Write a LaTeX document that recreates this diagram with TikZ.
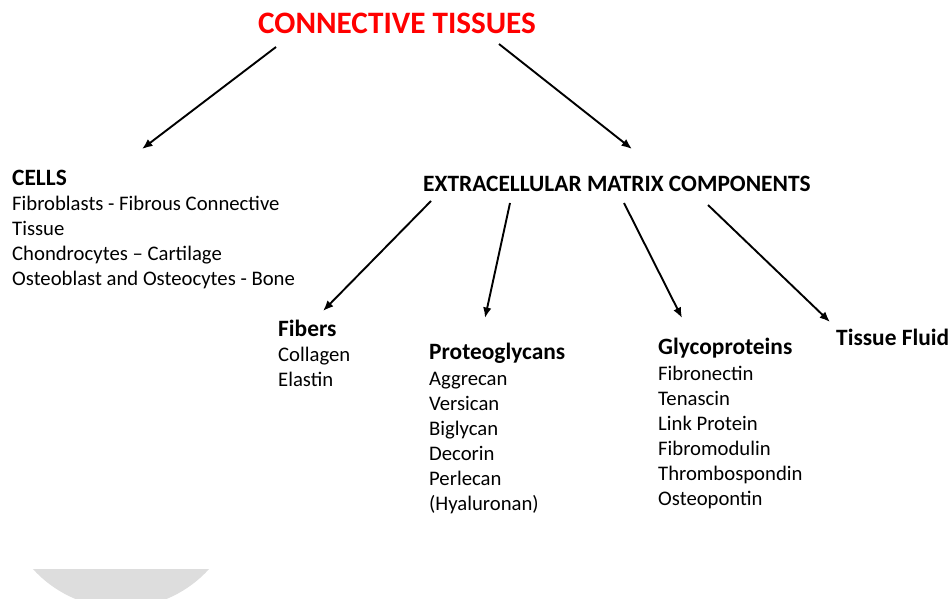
\documentclass[tikz,border=0pt]{standalone}
\usepackage{fontspec}
\setmainfont{Carlito}
\usetikzlibrary{arrows.meta}
\definecolor{segGrey}{RGB}{221,221,221}
\definecolor{titleRed}{RGB}{255,0,0}
\begin{document}
\begin{tikzpicture}[x=1pt,y=-1pt,
  txt/.style={anchor=base west,inner sep=0pt,font=\fontsize{20.7}{25}\selectfont},
  hd/.style={anchor=base west,inner sep=0pt,font=\fontsize{23.4}{28}\selectfont\bfseries},
  arr/.style={line width=1.9pt,-{Latex[length=10.5pt,width=8.5pt]}}]
\useasboundingbox (0,0) rectangle (950,599);
% grey segment at bottom left
\begin{scope}
  \clip (0,569) rectangle (950,599);
  \fill[segGrey] (121,489) circle[radius=119];
\end{scope}
% title
\node[anchor=base west,inner sep=0pt,text=titleRed,font=\fontsize{31.2}{36}\selectfont\bfseries] (title) at (258,34) {CONNECTIVE TISSUES};
% cells
\node[hd] (cells) at (12,185) {CELLS};
\foreach \t [count=\i] in {Fibroblasts - Fibrous Connective,Tissue,Chondrocytes -- Cartilage,Osteoblast and Osteocytes - Bone}
  \node[txt] (cell\i) at (12,{210.5+25*(\i-1)}) {\t};
% ECM
\node[hd] (ecm) at (423,191.5) {EXTRACELLULAR MATRIX COMPONENTS};
% fibers
\node[hd] (fib) at (278,336) {Fibers};
\foreach \t [count=\i] in {Collagen,Elastin}
  \node[txt] (fib\i) at (278,{361.5+25*(\i-1)}) {\t};
% proteoglycans
\node[hd] (pg) at (429,359.5) {Proteoglycans};
\foreach \t [count=\i] in {Aggrecan,Versican,Biglycan,Decorin,Perlecan,(Hyaluronan)}
  \node[txt] (pg\i) at (429,{385.5+25*(\i-1)}) {\t};
% glycoproteins
\node[hd] (gp) at (658,354) {Glycoproteins};
\foreach \t [count=\i] in {Fibronectin,Tenascin,Link Protein,Fibromodulin,Thrombospondin,Osteopontin}
  \node[txt] (gp\i) at (658,{380.5+25*(\i-1)}) {\t};
% tissue fluid
\node[hd] (tf) at (836,345) {Tissue Fluid};
% connector end points
\coordinate (a1s) at (276,47);  \coordinate (a1e) at (142,149);
\coordinate (a2s) at (499,44);  \coordinate (a2e) at (632,149);
\coordinate (a3s) at (431,201); \coordinate (a3e) at (323,311);
\coordinate (a4s) at (510,203); \coordinate (a4e) at (485,318);
\coordinate (a5s) at (624,203); \coordinate (a5e) at (682,318);
\coordinate (a6s) at (708,205); \coordinate (a6e) at (830,322);
\draw[arr] (a1s) -- (a1e);
\draw[arr] (a2s) -- (a2e);
\draw[arr] (a3s) -- (a3e);
\draw[arr] (a4s) -- (a4e);
\draw[arr] (a5s) -- (a5e);
\draw[arr] (a6s) -- (a6e);
\end{tikzpicture}
\end{document}
